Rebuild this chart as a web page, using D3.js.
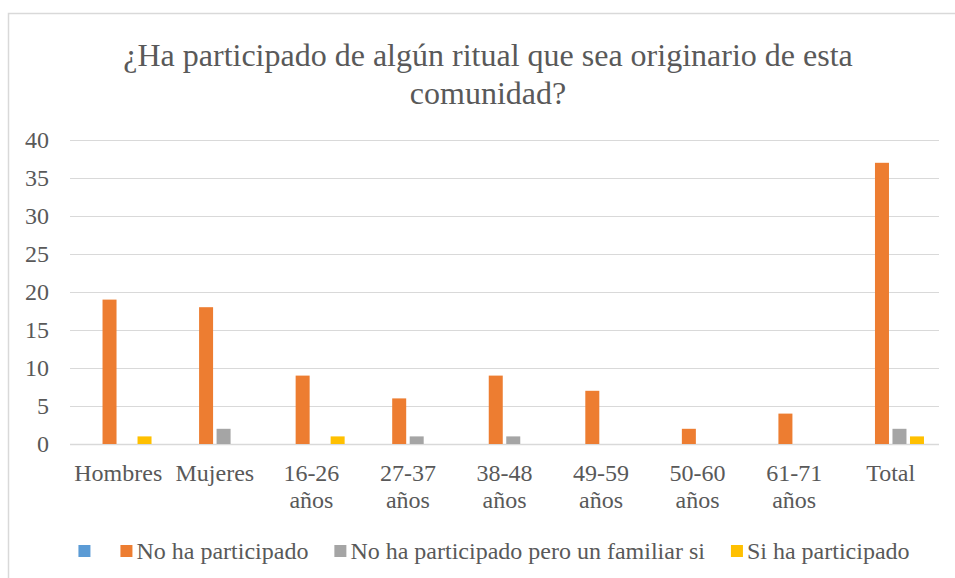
<!DOCTYPE html>
<html>
<head>
<meta charset="utf-8">
<script src="https://d3js.org/d3.v7.min.js"></script>
<style>
  body { margin: 0; background: #fff; }
  svg text { font-family: "Liberation Serif", "Times New Roman", Times, serif; fill: #595959; }
</style>
</head>
<body>
<svg id="chart" width="955" height="578"></svg>
<script>
// data
var categories = ["Hombres", "Mujeres", "16-26 años", "27-37 años", "38-48 años",
                  "49-59 años", "50-60 años", "61-71 años", "Total"];
var seriesNames = ["", "No ha participado", "No ha participado pero un familiar si", "Si ha participado"];
var seriesColors = ["#5B9BD5", "#ED7D31", "#A5A5A5", "#FFC000"];
var blank       = [0, 0, 0, 0, 0, 0, 0, 0, 0];
var noPart      = [19, 18, 9, 6, 9, 7, 2, 4, 37];
var familiarSi  = [0, 2, 0, 1, 1, 0, 0, 0, 2];
var siPart      = [1, 0, 1, 0, 0, 0, 0, 0, 1];
var yTicks = [0, 5, 10, 15, 20, 25, 30, 35, 40];
var titleLines = ["¿Ha participado de algún ritual que sea originario de esta", "comunidad?"];

var values = [blank, noPart, familiarSi, siPart];

var svg = d3.select("#chart");

// chart frame (only left + top visible, rest cut off)
svg.append("rect")
    .attr("x", 8.5).attr("y", 13.5)
    .attr("width", 1000).attr("height", 700)
    .attr("fill", "none").attr("stroke", "#d9d9d9").attr("stroke-width", 1.5);

var plotL = 70, plotR = 939, plotT = 140, plotB = 444;

var x0 = d3.scaleBand().domain(categories).range([plotL, plotR]).padding(0);
var x1 = d3.scaleBand().domain(d3.range(seriesNames.length))
    .range([-33.25, 33.25]).paddingInner(0.2).paddingOuter(0);
var y = d3.scaleLinear().domain([0, 40]).range([plotB, plotT]);

// title
svg.append("g").selectAll("text").data(titleLines).enter().append("text")
    .attr("x", 488).attr("y", function(d, i) { return 66 + i * 38; })
    .attr("text-anchor", "middle")
    .style("font-size", "32px")
    .text(function(d) { return d; });

// gridlines
svg.append("g").selectAll("line").data(yTicks).enter().append("line")
    .attr("x1", plotL).attr("x2", plotR)
    .attr("y1", function(d) { return Math.round(y(d)) + 0.5; })
    .attr("y2", function(d) { return Math.round(y(d)) + 0.5; })
    .attr("stroke", "#d9d9d9").attr("stroke-width", function(d) { return d === 0 ? 1.5 : 1; });

// y axis labels
var yAxis = d3.axisLeft(y).tickValues(yTicks).tickSize(0).tickPadding(0);
var gy = svg.append("g").attr("transform", "translate(49,0)").call(yAxis);
gy.select(".domain").remove();
gy.attr("font-family", null).attr("font-size", null);
gy.selectAll("text").style("font-size", "24px").attr("fill", "#595959").attr("dy", "0.33em");

// bars
var groups = svg.append("g").selectAll("g").data(categories).enter().append("g")
    .attr("transform", function(d) { return "translate(" + (x0(d) + x0.bandwidth() / 2) + ",0)"; });

groups.selectAll("rect")
    .data(function(d, ci) { return values.map(function(v, si) { return { s: si, v: v[ci] }; }); })
    .enter().append("rect")
    .attr("x", function(d) { return x1(d.s); })
    .attr("width", x1.bandwidth())
    .attr("y", function(d) { return y(d.v); })
    .attr("height", function(d) { return y(0) - y(d.v); })
    .attr("fill", function(d) { return seriesColors[d.s]; });

// x labels (wrapped on space before "años")
var xl = svg.append("g").selectAll("text").data(categories).enter().append("text")
    .attr("x", function(d) { return x0(d) + x0.bandwidth() / 2; })
    .attr("y", 481)
    .attr("text-anchor", "middle")
    .style("font-size", "24px");
xl.each(function(d) {
  var parts = d.indexOf(" años") > 0 ? [d.replace(" años", ""), "años"] : [d];
  var t = d3.select(this);
  parts.forEach(function(p, i) {
    t.append("tspan").attr("x", t.attr("x")).attr("dy", i === 0 ? 0 : 27).text(p);
  });
});

// legend
var legend = svg.append("g");
var items = legend.selectAll("g").data(seriesNames).enter().append("g");
items.append("rect").attr("width", 12).attr("height", 12).attr("y", 545)
    .attr("fill", function(d, i) { return seriesColors[i]; });
items.append("text").attr("x", 16).attr("y", 559).style("font-size", "24px")
    .text(function(d) { return d; });
var widths = [];
items.each(function() { widths.push(d3.select(this).select("text").node().getComputedTextLength()); });
var gapItem = 26, total = 0;
widths.forEach(function(w, i) { total += 16 + w + (i < widths.length - 1 ? gapItem : 0); });
var cur = 494 - total / 2;
items.attr("transform", function(d, i) {
  var t = "translate(" + cur + ",0)";
  cur += 16 + widths[i] + gapItem;
  return t;
});
</script>
</body>
</html>
